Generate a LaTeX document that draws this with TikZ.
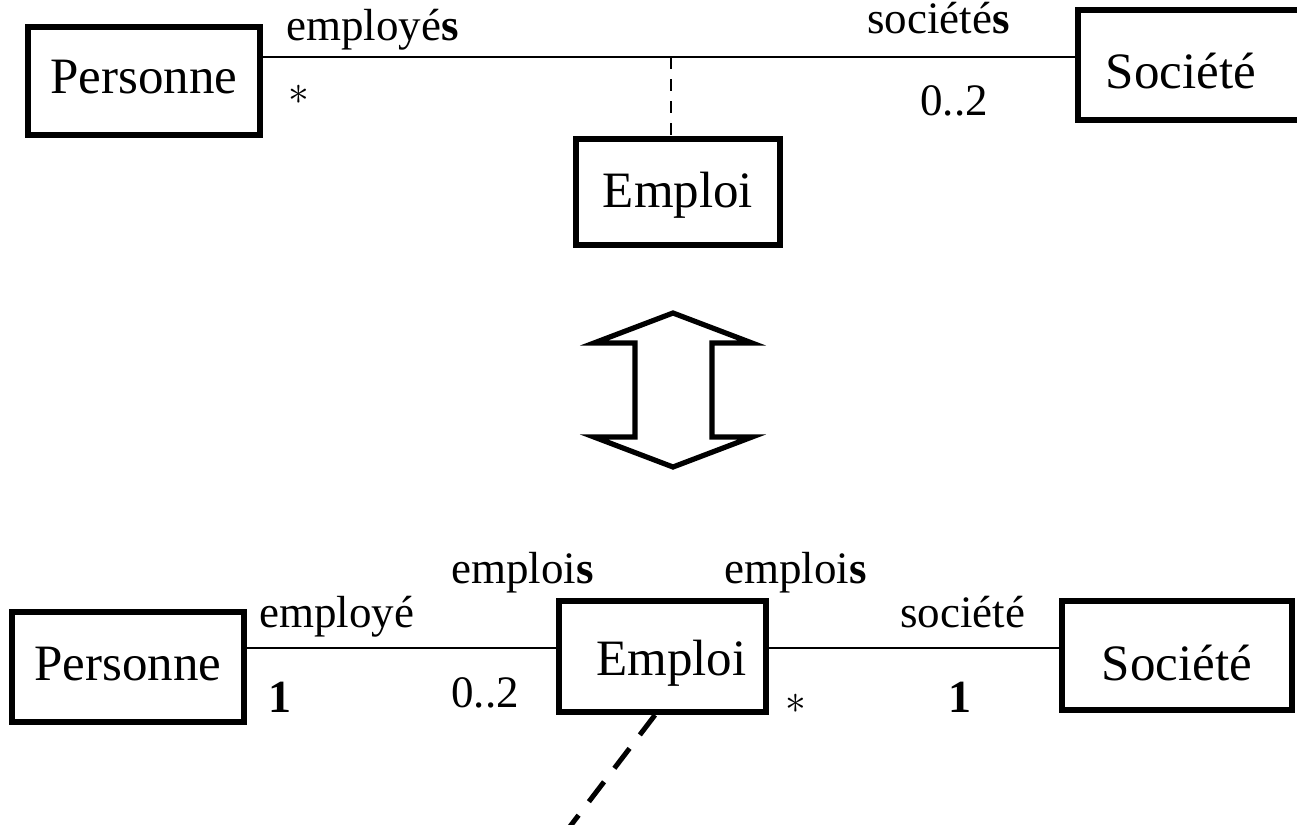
\documentclass[tikz,border=0pt]{standalone}
\usepackage{fontspec}
\setmainfont{Liberation Serif}
\begin{document}
\begin{tikzpicture}[x=0.5pt,y=-0.5pt,
  box/.style={draw, line width=3pt, rectangle, inner sep=0pt, text depth=0pt,
    font=\fontsize{25.5pt}{30pt}\selectfont},
  lbl/.style={inner sep=0pt, anchor=base west, font=\fontsize{22.5pt}{27pt}\selectfont},
  mult/.style={inner sep=0pt, font=\fontsize{22.5pt}{27pt}\selectfont},
  assoc/.style={line width=1.2pt},
  thindash/.style={line width=1pt, dash pattern=on 6pt off 5pt},
  thickdash/.style={line width=2.5pt, dash pattern=on 12.5pt off 8.5pt},
  bigarrow/.style={line width=2.6pt, line join=miter, fill=white}
]
\useasboundingbox (0,0) rectangle (1297,825);

% ---------- top diagram ----------
\node[box, minimum width=115.75pt, minimum height=54.25pt, text height=12pt] (P1) at (144,81) {Personne};
\node[box, minimum width=102.25pt, minimum height=52.75pt, text height=15pt] (E1) at (678,192) {Emploi};
\node[box, minimum width=116pt, minimum height=55pt, text height=23pt] (S1) at (1194,65) {Société\hspace*{13pt}};

\coordinate (L1) at (0,57);
\draw[assoc] ([xshift=-2.5pt]P1.east |- L1) -- (S1.west |- L1);
\coordinate (D1) at (671,57);
\draw[thindash] (D1) -- (D1 |- E1.north);

\node[lbl] (t1) at (286,40) {employé\textbf{s}};
\node[mult] (t2) at (299,95) {$\ast$};
\node[lbl] (t3) at (867,33) {société\textbf{s}};
\node[lbl] (t4) at (920,115) {0..2};

% ---------- double arrow ----------
\draw[bigarrow] (673,313) -- (752,343) -- (712,343) -- (712,437) -- (752,437)
  -- (673,467) -- (594,437) -- (635,437) -- (635,343) -- (594,343) -- cycle;

% ---------- bottom diagram ----------
\node[box, minimum width=116pt, minimum height=55pt, text height=13pt] (P2) at (128,667) {Personne};
\node[box, minimum width=103.5pt, minimum height=55.5pt, text height=18.5pt] (E2) at (662.5,656.5) {\hspace*{9pt}Emploi};
\node[box, minimum width=115pt, minimum height=54.5pt, text height=24.5pt] (S2) at (1177,655.5) {Société};

\coordinate (L2) at (0,648);
\draw[assoc] ([xshift=-2.5pt]P2.east |- L2) -- (E2.west |- L2);
\draw[assoc] (E2.east |- L2) -- (S2.west |- L2);

\coordinate (D2) at (655,0);
\coordinate (D3) at (565,833);
\draw[thickdash] (D2 |- E2.south) -- (D3);

\node[lbl] (b1) at (259,627) {employé};
\node[lbl] (b2) at (451,583) {emploi\textbf{s}};
\node[lbl] (b3) at (724,583) {emploi\textbf{s}};
\node[lbl] (b4) at (900,627) {société};
\node[lbl, font=\fontsize{23pt}{27pt}\selectfont\bfseries] (b5) at (268,712) {1};
\node[lbl] (b6) at (451,707) {0..2};
\node[mult] (b7) at (796,704) {$\ast$};
\node[lbl, font=\fontsize{23pt}{27pt}\selectfont\bfseries] (b8) at (948,712) {1};
\end{tikzpicture}
\end{document}
